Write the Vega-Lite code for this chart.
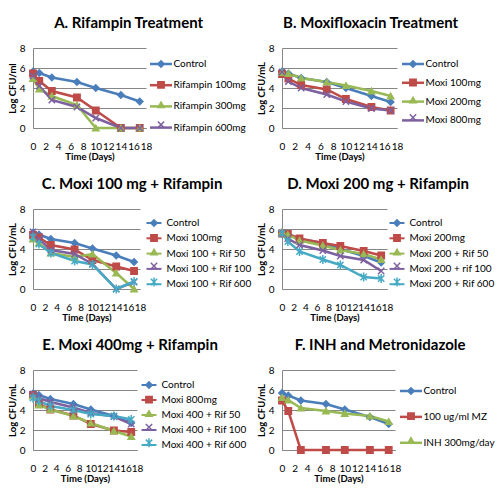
{
  "$schema": "https://vega.github.io/schema/vega-lite/v6.json",
  "padding": {"left": 7, "top": 16, "right": 2, "bottom": 2},
  "background": "white",
  "data": {"values": [
    {"p":"A","s":"Control","d":0,"v":5.65},{"p":"A","s":"Control","d":1,"v":5.5},{"p":"A","s":"Control","d":3,"v":5.05},{"p":"A","s":"Control","d":7,"v":4.6},{"p":"A","s":"Control","d":10,"v":4.0},{"p":"A","s":"Control","d":14,"v":3.3},{"p":"A","s":"Control","d":17,"v":2.65},
    {"p":"A","s":"Rifampin 100mg","d":0,"v":5.45},{"p":"A","s":"Rifampin 100mg","d":1,"v":4.7},{"p":"A","s":"Rifampin 100mg","d":3,"v":3.7},{"p":"A","s":"Rifampin 100mg","d":7,"v":3.05},{"p":"A","s":"Rifampin 100mg","d":10,"v":1.75},{"p":"A","s":"Rifampin 100mg","d":14,"v":0},{"p":"A","s":"Rifampin 100mg","d":17,"v":0},
    {"p":"A","s":"Rifampin 300mg","d":0,"v":4.95},{"p":"A","s":"Rifampin 300mg","d":1,"v":3.9},{"p":"A","s":"Rifampin 300mg","d":3,"v":3.2},{"p":"A","s":"Rifampin 300mg","d":7,"v":2.3},{"p":"A","s":"Rifampin 300mg","d":10,"v":0},{"p":"A","s":"Rifampin 300mg","d":14,"v":0},{"p":"A","s":"Rifampin 300mg","d":17,"v":0},
    {"p":"A","s":"Rifampin 600mg","d":0,"v":5.2},{"p":"A","s":"Rifampin 600mg","d":1,"v":4.2},{"p":"A","s":"Rifampin 600mg","d":3,"v":2.8},{"p":"A","s":"Rifampin 600mg","d":7,"v":2.1},{"p":"A","s":"Rifampin 600mg","d":10,"v":1.0},{"p":"A","s":"Rifampin 600mg","d":14,"v":0},{"p":"A","s":"Rifampin 600mg","d":17,"v":0},

    {"p":"B","s":"Control","d":0,"v":5.65},{"p":"B","s":"Control","d":1,"v":5.45},{"p":"B","s":"Control","d":3,"v":5.0},{"p":"B","s":"Control","d":7,"v":4.6},{"p":"B","s":"Control","d":10,"v":4.0},{"p":"B","s":"Control","d":14,"v":3.2},{"p":"B","s":"Control","d":17,"v":2.6},
    {"p":"B","s":"Moxi 100mg","d":0,"v":5.4},{"p":"B","s":"Moxi 100mg","d":1,"v":4.95},{"p":"B","s":"Moxi 100mg","d":3,"v":4.3},{"p":"B","s":"Moxi 100mg","d":7,"v":3.85},{"p":"B","s":"Moxi 100mg","d":10,"v":2.9},{"p":"B","s":"Moxi 100mg","d":14,"v":2.1},{"p":"B","s":"Moxi 100mg","d":17,"v":1.75},
    {"p":"B","s":"Moxi 200mg","d":0,"v":5.55},{"p":"B","s":"Moxi 200mg","d":1,"v":5.45},{"p":"B","s":"Moxi 200mg","d":3,"v":5.0},{"p":"B","s":"Moxi 200mg","d":7,"v":4.6},{"p":"B","s":"Moxi 200mg","d":10,"v":4.25},{"p":"B","s":"Moxi 200mg","d":14,"v":3.7},{"p":"B","s":"Moxi 200mg","d":17,"v":3.2},
    {"p":"B","s":"Moxi 800mg","d":0,"v":5.6},{"p":"B","s":"Moxi 800mg","d":1,"v":4.65},{"p":"B","s":"Moxi 800mg","d":3,"v":4.0},{"p":"B","s":"Moxi 800mg","d":7,"v":3.35},{"p":"B","s":"Moxi 800mg","d":10,"v":2.65},{"p":"B","s":"Moxi 800mg","d":14,"v":1.95},{"p":"B","s":"Moxi 800mg","d":17,"v":1.75},

    {"p":"C","s":"Control","d":0,"v":5.65},{"p":"C","s":"Control","d":1,"v":5.45},{"p":"C","s":"Control","d":3,"v":5.0},{"p":"C","s":"Control","d":7,"v":4.6},{"p":"C","s":"Control","d":10,"v":4.05},{"p":"C","s":"Control","d":14,"v":3.35},{"p":"C","s":"Control","d":17,"v":2.7},
    {"p":"C","s":"Moxi 100mg","d":0,"v":5.4},{"p":"C","s":"Moxi 100mg","d":1,"v":5.15},{"p":"C","s":"Moxi 100mg","d":3,"v":4.4},{"p":"C","s":"Moxi 100mg","d":7,"v":3.95},{"p":"C","s":"Moxi 100mg","d":10,"v":2.9},{"p":"C","s":"Moxi 100mg","d":14,"v":2.25},{"p":"C","s":"Moxi 100mg","d":17,"v":1.8},
    {"p":"C","s":"Moxi 100 + Rif 50","d":0,"v":5.0},{"p":"C","s":"Moxi 100 + Rif 50","d":1,"v":4.6},{"p":"C","s":"Moxi 100 + Rif 50","d":3,"v":3.6},{"p":"C","s":"Moxi 100 + Rif 50","d":7,"v":3.2},{"p":"C","s":"Moxi 100 + Rif 50","d":10,"v":3.5},{"p":"C","s":"Moxi 100 + Rif 50","d":14,"v":1.6},{"p":"C","s":"Moxi 100 + Rif 50","d":17,"v":0},
    {"p":"C","s":"Moxi 100 + Rif 100","d":0,"v":5.7},{"p":"C","s":"Moxi 100 + Rif 100","d":1,"v":5.0},{"p":"C","s":"Moxi 100 + Rif 100","d":3,"v":3.9},{"p":"C","s":"Moxi 100 + Rif 100","d":7,"v":3.5},{"p":"C","s":"Moxi 100 + Rif 100","d":10,"v":2.5},{"p":"C","s":"Moxi 100 + Rif 100","d":14,"v":0},{"p":"C","s":"Moxi 100 + Rif 100","d":17,"v":0.7},
    {"p":"C","s":"Moxi 100 + Rif 600","d":0,"v":5.2},{"p":"C","s":"Moxi 100 + Rif 600","d":1,"v":4.5},{"p":"C","s":"Moxi 100 + Rif 600","d":3,"v":3.6},{"p":"C","s":"Moxi 100 + Rif 600","d":7,"v":2.8},{"p":"C","s":"Moxi 100 + Rif 600","d":10,"v":2.45},{"p":"C","s":"Moxi 100 + Rif 600","d":14,"v":0},{"p":"C","s":"Moxi 100 + Rif 600","d":17,"v":0.75},

    {"p":"D","s":"Control","d":0,"v":5.65},{"p":"D","s":"Control","d":1,"v":5.5},{"p":"D","s":"Control","d":3,"v":5.0},{"p":"D","s":"Control","d":7,"v":4.6},{"p":"D","s":"Control","d":10,"v":4.0},{"p":"D","s":"Control","d":14,"v":3.3},{"p":"D","s":"Control","d":17,"v":2.65},
    {"p":"D","s":"Moxi 200mg","d":0,"v":5.55},{"p":"D","s":"Moxi 200mg","d":1,"v":5.5},{"p":"D","s":"Moxi 200mg","d":3,"v":5.05},{"p":"D","s":"Moxi 200mg","d":7,"v":4.6},{"p":"D","s":"Moxi 200mg","d":10,"v":4.3},{"p":"D","s":"Moxi 200mg","d":14,"v":3.8},{"p":"D","s":"Moxi 200mg","d":17,"v":3.35},
    {"p":"D","s":"Moxi 200 + Rif 50","d":0,"v":5.7},{"p":"D","s":"Moxi 200 + Rif 50","d":1,"v":5.45},{"p":"D","s":"Moxi 200 + Rif 50","d":3,"v":4.85},{"p":"D","s":"Moxi 200 + Rif 50","d":7,"v":4.35},{"p":"D","s":"Moxi 200 + Rif 50","d":10,"v":3.9},{"p":"D","s":"Moxi 200 + Rif 50","d":14,"v":3.5},{"p":"D","s":"Moxi 200 + Rif 50","d":17,"v":2.95},
    {"p":"D","s":"Moxi 200 + rif 100","d":0,"v":5.6},{"p":"D","s":"Moxi 200 + rif 100","d":1,"v":5.05},{"p":"D","s":"Moxi 200 + rif 100","d":3,"v":4.4},{"p":"D","s":"Moxi 200 + rif 100","d":7,"v":3.85},{"p":"D","s":"Moxi 200 + rif 100","d":10,"v":3.3},{"p":"D","s":"Moxi 200 + rif 100","d":14,"v":2.9},{"p":"D","s":"Moxi 200 + rif 100","d":17,"v":1.8},
    {"p":"D","s":"Moxi 200 + Rif 600","d":0,"v":5.55},{"p":"D","s":"Moxi 200 + Rif 600","d":1,"v":4.75},{"p":"D","s":"Moxi 200 + Rif 600","d":3,"v":3.75},{"p":"D","s":"Moxi 200 + Rif 600","d":7,"v":2.95},{"p":"D","s":"Moxi 200 + Rif 600","d":10,"v":2.4},{"p":"D","s":"Moxi 200 + Rif 600","d":14,"v":1.2},{"p":"D","s":"Moxi 200 + Rif 600","d":17,"v":1.05},

    {"p":"E","s":"Control","d":0,"v":5.65},{"p":"E","s":"Control","d":1,"v":5.5},{"p":"E","s":"Control","d":3,"v":5.1},{"p":"E","s":"Control","d":7,"v":4.6},{"p":"E","s":"Control","d":10,"v":4.05},{"p":"E","s":"Control","d":14,"v":3.4},{"p":"E","s":"Control","d":17,"v":2.7},
    {"p":"E","s":"Moxi 800mg","d":0,"v":5.5},{"p":"E","s":"Moxi 800mg","d":1,"v":4.65},{"p":"E","s":"Moxi 800mg","d":3,"v":4.05},{"p":"E","s":"Moxi 800mg","d":7,"v":3.45},{"p":"E","s":"Moxi 800mg","d":10,"v":2.6},{"p":"E","s":"Moxi 800mg","d":14,"v":1.95},{"p":"E","s":"Moxi 800mg","d":17,"v":1.8},
    {"p":"E","s":"Moxi 400 + Rif 50","d":0,"v":5.4},{"p":"E","s":"Moxi 400 + Rif 50","d":1,"v":4.5},{"p":"E","s":"Moxi 400 + Rif 50","d":3,"v":4.05},{"p":"E","s":"Moxi 400 + Rif 50","d":7,"v":3.4},{"p":"E","s":"Moxi 400 + Rif 50","d":10,"v":2.7},{"p":"E","s":"Moxi 400 + Rif 50","d":14,"v":1.9},{"p":"E","s":"Moxi 400 + Rif 50","d":17,"v":1.35},
    {"p":"E","s":"Moxi 400 + Rif 100","d":0,"v":5.6},{"p":"E","s":"Moxi 400 + Rif 100","d":1,"v":5.2},{"p":"E","s":"Moxi 400 + Rif 100","d":3,"v":4.8},{"p":"E","s":"Moxi 400 + Rif 100","d":7,"v":4.25},{"p":"E","s":"Moxi 400 + Rif 100","d":10,"v":3.7},{"p":"E","s":"Moxi 400 + Rif 100","d":14,"v":3.35},{"p":"E","s":"Moxi 400 + Rif 100","d":17,"v":2.6},
    {"p":"E","s":"Moxi 400 + Rif 600","d":0,"v":5.2},{"p":"E","s":"Moxi 400 + Rif 600","d":1,"v":4.9},{"p":"E","s":"Moxi 400 + Rif 600","d":3,"v":4.4},{"p":"E","s":"Moxi 400 + Rif 600","d":7,"v":4.0},{"p":"E","s":"Moxi 400 + Rif 600","d":10,"v":3.6},{"p":"E","s":"Moxi 400 + Rif 600","d":14,"v":3.4},{"p":"E","s":"Moxi 400 + Rif 600","d":17,"v":3.05},

    {"p":"F","s":"Control","d":0,"v":5.7},{"p":"F","s":"Control","d":1,"v":5.45},{"p":"F","s":"Control","d":3,"v":4.95},{"p":"F","s":"Control","d":7,"v":4.6},{"p":"F","s":"Control","d":10,"v":4.05},{"p":"F","s":"Control","d":14,"v":3.3},{"p":"F","s":"Control","d":17,"v":2.6},
    {"p":"F","s":"100 ug/ml MZ","d":0,"v":4.95},{"p":"F","s":"100 ug/ml MZ","d":1,"v":3.9},{"p":"F","s":"100 ug/ml MZ","d":3,"v":0},{"p":"F","s":"100 ug/ml MZ","d":7,"v":0},{"p":"F","s":"100 ug/ml MZ","d":10,"v":0},{"p":"F","s":"100 ug/ml MZ","d":14,"v":0},{"p":"F","s":"100 ug/ml MZ","d":17,"v":0},
    {"p":"F","s":"INH 300mg/day","d":0,"v":5.25},{"p":"F","s":"INH 300mg/day","d":1,"v":5.0},{"p":"F","s":"INH 300mg/day","d":3,"v":4.2},{"p":"F","s":"INH 300mg/day","d":7,"v":3.9},{"p":"F","s":"INH 300mg/day","d":10,"v":3.65},{"p":"F","s":"INH 300mg/day","d":14,"v":3.4},{"p":"F","s":"INH 300mg/day","d":17,"v":2.85}
  ]},
  "columns": 2,
  "bounds": "flush",
  "align": "all",
  "spacing": {"row": 81, "column": 134},
  "resolve": {"scale": {"color": "independent", "fill": "independent", "stroke": "independent", "shape": "independent", "x": "independent", "y": "independent"}, "legend": {"color": "independent", "fill": "independent", "stroke": "independent", "shape": "independent"}},
  "concat": [
    {
      "title": "A. Rifampin Treatment",
      "width": 113, "height": 80,
      "transform": [{"filter": "datum.p === 'A'"}],
      "encoding": {
        "x": {"field": "d", "type": "quantitative", "title": "Time (Days)", "scale": {"domain": [0, 18], "nice": false}, "axis": {"values": [0, 2, 4, 6, 8, 10, 12, 14, 16, 18]}},
        "y": {"field": "v", "type": "quantitative", "title": "Log CFU/ml", "scale": {"domain": [0, 8], "nice": false}, "axis": {"values": [0, 2, 4, 6, 8]}}
      },
      "layer": [
        {"mark": {"type": "line", "strokeWidth": 2.5},
         "encoding": {"color": {"field": "s", "type": "nominal",
           "scale": {"domain": ["Control", "Rifampin 100mg", "Rifampin 300mg", "Rifampin 600mg"], "range": ["#4A7EBB", "#BE4B48", "#98B954", "#7D60A0"]},
           "legend": {"orient": "right", "offset": -1, "padding": 3.5, "rowPadding": 3.2, "symbolType": "stroke", "symbolSize": 484, "symbolStrokeWidth": 2.5}}}},
        {"mark": {"type": "point", "filled": true, "size": 40, "strokeWidth": 1.5, "opacity": 1},
         "encoding": {
           "fill": {"field": "s", "type": "nominal", "scale": {"domain": ["Control", "Rifampin 100mg", "Rifampin 300mg", "Rifampin 600mg"], "range": ["#4A7EBB", "#BE4B48", "#98B954", "#7D60A0"]}, "legend": null},
           "stroke": {"field": "s", "type": "nominal", "scale": {"domain": ["Control", "Rifampin 100mg", "Rifampin 300mg", "Rifampin 600mg"], "range": ["#4A7EBB", "#BE4B48", "#98B954", "#7D60A0"]}, "legend": null},
           "shape": {"field": "s", "type": "nominal", "scale": {"domain": ["Control", "Rifampin 100mg", "Rifampin 300mg", "Rifampin 600mg"], "range": ["diamond", "square", "triangle-up", "M-1,-1L1,1M-1,1L1,-1"]},
             "legend": {"orient": "none", "legendX": 123, "legendY": 11, "rowPadding": 6.9, "padding": 0, "symbolSize": 40, "symbolStrokeWidth": 1.5, "labelOpacity": 0}}}}
      ]
    },
    {
      "title": "B. Moxifloxacin Treatment",
      "width": 115, "height": 80,
      "transform": [{"filter": "datum.p === 'B'"}],
      "encoding": {
        "x": {"field": "d", "type": "quantitative", "title": "Time (Days)", "scale": {"domain": [0, 18], "nice": false}, "axis": {"values": [0, 2, 4, 6, 8, 10, 12, 14, 16, 18]}},
        "y": {"field": "v", "type": "quantitative", "title": "Log CFU/mL", "scale": {"domain": [0, 8], "nice": false}, "axis": {"values": [0, 2, 4, 6, 8]}}
      },
      "layer": [
        {"mark": {"type": "line", "strokeWidth": 2.5},
         "encoding": {"color": {"field": "s", "type": "nominal",
           "scale": {"domain": ["Control", "Moxi 100mg", "Moxi 200mg", "Moxi 800mg"], "range": ["#4A7EBB", "#BE4B48", "#98B954", "#7D60A0"]},
           "legend": {"orient": "right", "offset": 0, "padding": 3.5, "rowPadding": 0.8, "symbolType": "stroke", "symbolSize": 484, "symbolStrokeWidth": 2.5}}}},
        {"mark": {"type": "point", "filled": true, "size": 40, "strokeWidth": 1.5, "opacity": 1},
         "encoding": {
           "fill": {"field": "s", "type": "nominal", "scale": {"domain": ["Control", "Moxi 100mg", "Moxi 200mg", "Moxi 800mg"], "range": ["#4A7EBB", "#BE4B48", "#98B954", "#7D60A0"]}, "legend": null},
           "stroke": {"field": "s", "type": "nominal", "scale": {"domain": ["Control", "Moxi 100mg", "Moxi 200mg", "Moxi 800mg"], "range": ["#4A7EBB", "#BE4B48", "#98B954", "#7D60A0"]}, "legend": null},
           "shape": {"field": "s", "type": "nominal", "scale": {"domain": ["Control", "Moxi 100mg", "Moxi 200mg", "Moxi 800mg"], "range": ["diamond", "square", "triangle-up", "M-1,-1L1,1M-1,1L1,-1"]},
             "legend": {"orient": "none", "legendX": 126, "legendY": 11, "rowPadding": 4.5, "padding": 0, "symbolSize": 40, "symbolStrokeWidth": 1.5, "labelOpacity": 0}}}}
      ]
    },
    {
      "title": "C. Moxi 100 mg + Rifampin",
      "width": 107, "height": 80,
      "transform": [{"filter": "datum.p === 'C'"}],
      "encoding": {
        "x": {"field": "d", "type": "quantitative", "title": "Time (Days)", "scale": {"domain": [0, 18], "nice": false}, "axis": {"values": [0, 2, 4, 6, 8, 10, 12, 14, 16, 18]}},
        "y": {"field": "v", "type": "quantitative", "title": "Log CFU/mL", "scale": {"domain": [0, 8], "nice": false}, "axis": {"values": [0, 2, 4, 6, 8]}}
      },
      "layer": [
        {"mark": {"type": "line", "strokeWidth": 2.5},
         "encoding": {"color": {"field": "s", "type": "nominal",
           "scale": {"domain": ["Control", "Moxi 100mg", "Moxi 100 + Rif 50", "Moxi 100 + Rif 100", "Moxi 100 + Rif 600"], "range": ["#4A7EBB", "#BE4B48", "#98B954", "#7D60A0", "#46AAC5"]},
           "legend": {"orient": "right", "offset": 0, "padding": 5.5, "rowPadding": 1.3, "symbolType": "stroke", "symbolSize": 225, "symbolStrokeWidth": 2, "labelOffset": 4}}}},
        {"mark": {"type": "point", "filled": true, "size": 40, "strokeWidth": 1.5, "opacity": 1},
         "encoding": {
           "fill": {"field": "s", "type": "nominal", "scale": {"domain": ["Control", "Moxi 100mg", "Moxi 100 + Rif 50", "Moxi 100 + Rif 100", "Moxi 100 + Rif 600"], "range": ["#4A7EBB", "#BE4B48", "#98B954", "#7D60A0", "#46AAC5"]}, "legend": null},
           "stroke": {"field": "s", "type": "nominal", "scale": {"domain": ["Control", "Moxi 100mg", "Moxi 100 + Rif 50", "Moxi 100 + Rif 100", "Moxi 100 + Rif 600"], "range": ["#4A7EBB", "#BE4B48", "#98B954", "#7D60A0", "#46AAC5"]}, "legend": null},
           "shape": {"field": "s", "type": "nominal", "scale": {"domain": ["Control", "Moxi 100mg", "Moxi 100 + Rif 50", "Moxi 100 + Rif 100", "Moxi 100 + Rif 600"], "range": ["diamond", "square", "triangle-up", "M-1,-1L1,1M-1,1L1,-1", "M-1,-1L1,1M-1,1L1,-1M0,-1.4V1.4"]},
             "legend": {"orient": "none", "legendX": 116, "legendY": 9, "rowPadding": 1.0, "padding": 0, "symbolSize": 40, "symbolStrokeWidth": 1.5, "labelOpacity": 0}}}}
      ]
    },
    {
      "title": "D. Moxi 200 mg + Rifampin",
      "width": 105, "height": 80,
      "transform": [{"filter": "datum.p === 'D'"}],
      "encoding": {
        "x": {"field": "d", "type": "quantitative", "title": "Time (Days)", "scale": {"domain": [0, 18], "nice": false}, "axis": {"values": [0, 2, 4, 6, 8, 10, 12, 14, 16, 18]}},
        "y": {"field": "v", "type": "quantitative", "title": "Log CFU/mL", "scale": {"domain": [0, 8], "nice": false}, "axis": {"values": [0, 2, 4, 6, 8]}}
      },
      "layer": [
        {"mark": {"type": "line", "strokeWidth": 2.5},
         "encoding": {"color": {"field": "s", "type": "nominal",
           "scale": {"domain": ["Control", "Moxi 200mg", "Moxi 200 + Rif 50", "Moxi 200 + rif 100", "Moxi 200 + Rif 600"], "range": ["#4A7EBB", "#BE4B48", "#98B954", "#7D60A0", "#46AAC5"]},
           "legend": {"orient": "right", "offset": -4, "padding": 5.5, "rowPadding": 1.3, "symbolType": "stroke", "symbolSize": 225, "symbolStrokeWidth": 2, "labelOffset": 4}}}},
        {"mark": {"type": "point", "filled": true, "size": 40, "strokeWidth": 1.5, "opacity": 1},
         "encoding": {
           "fill": {"field": "s", "type": "nominal", "scale": {"domain": ["Control", "Moxi 200mg", "Moxi 200 + Rif 50", "Moxi 200 + rif 100", "Moxi 200 + Rif 600"], "range": ["#4A7EBB", "#BE4B48", "#98B954", "#7D60A0", "#46AAC5"]}, "legend": null},
           "stroke": {"field": "s", "type": "nominal", "scale": {"domain": ["Control", "Moxi 200mg", "Moxi 200 + Rif 50", "Moxi 200 + rif 100", "Moxi 200 + Rif 600"], "range": ["#4A7EBB", "#BE4B48", "#98B954", "#7D60A0", "#46AAC5"]}, "legend": null},
           "shape": {"field": "s", "type": "nominal", "scale": {"domain": ["Control", "Moxi 200mg", "Moxi 200 + Rif 50", "Moxi 200 + rif 100", "Moxi 200 + Rif 600"], "range": ["diamond", "square", "triangle-up", "M-1,-1L1,1M-1,1L1,-1", "M-1,-1L1,1M-1,1L1,-1M0,-1.4V1.4"]},
             "legend": {"orient": "none", "legendX": 110, "legendY": 9, "rowPadding": 1.0, "padding": 0, "symbolSize": 40, "symbolStrokeWidth": 1.5, "labelOpacity": 0}}}}
      ]
    },
    {
      "title": "E. Moxi 400mg + Rifampin",
      "width": 104, "height": 80,
      "transform": [{"filter": "datum.p === 'E'"}],
      "encoding": {
        "x": {"field": "d", "type": "quantitative", "title": "Time (Days)", "scale": {"domain": [0, 18], "nice": false}, "axis": {"values": [0, 2, 4, 6, 8, 10, 12, 14, 16, 18]}},
        "y": {"field": "v", "type": "quantitative", "title": "Log CFU/mL", "scale": {"domain": [0, 8], "nice": false}, "axis": {"values": [0, 2, 4, 6, 8]}}
      },
      "layer": [
        {"mark": {"type": "line", "strokeWidth": 2.5},
         "encoding": {"color": {"field": "s", "type": "nominal",
           "scale": {"domain": ["Control", "Moxi 800mg", "Moxi 400 + Rif 50", "Moxi 400 + Rif 100", "Moxi 400 + Rif 600"], "range": ["#4A7EBB", "#BE4B48", "#98B954", "#7D60A0", "#46AAC5"]},
           "legend": {"orient": "right", "offset": -3, "padding": 6.5, "rowPadding": 1.0, "symbolType": "stroke", "symbolSize": 225, "symbolStrokeWidth": 2, "labelOffset": 4}}}},
        {"mark": {"type": "point", "filled": true, "size": 40, "strokeWidth": 1.5, "opacity": 1},
         "encoding": {
           "fill": {"field": "s", "type": "nominal", "scale": {"domain": ["Control", "Moxi 800mg", "Moxi 400 + Rif 50", "Moxi 400 + Rif 100", "Moxi 400 + Rif 600"], "range": ["#4A7EBB", "#BE4B48", "#98B954", "#7D60A0", "#46AAC5"]}, "legend": null},
           "stroke": {"field": "s", "type": "nominal", "scale": {"domain": ["Control", "Moxi 800mg", "Moxi 400 + Rif 50", "Moxi 400 + Rif 100", "Moxi 400 + Rif 600"], "range": ["#4A7EBB", "#BE4B48", "#98B954", "#7D60A0", "#46AAC5"]}, "legend": null},
           "shape": {"field": "s", "type": "nominal", "scale": {"domain": ["Control", "Moxi 800mg", "Moxi 400 + Rif 50", "Moxi 400 + Rif 100", "Moxi 400 + Rif 600"], "range": ["diamond", "square", "triangle-up", "M-1,-1L1,1M-1,1L1,-1", "M-1,-1L1,1M-1,1L1,-1M0,-1.4V1.4"]},
             "legend": {"orient": "none", "legendX": 111, "legendY": 10, "rowPadding": 0.7, "padding": 0, "symbolSize": 40, "symbolStrokeWidth": 1.5, "labelOpacity": 0}}}}
      ]
    },
    {
      "title": "F. INH and Metronidazole",
      "width": 113, "height": 80,
      "transform": [{"filter": "datum.p === 'F'"}],
      "encoding": {
        "x": {"field": "d", "type": "quantitative", "title": "Time (Days)", "scale": {"domain": [0, 18], "nice": false}, "axis": {"values": [0, 2, 4, 6, 8, 10, 12, 14, 16, 18]}},
        "y": {"field": "v", "type": "quantitative", "title": "Log CFU/mL", "scale": {"domain": [0, 8], "nice": false}, "axis": {"values": [0, 2, 4, 6, 8]}}
      },
      "layer": [
        {"mark": {"type": "line", "strokeWidth": 2.5},
         "encoding": {"color": {"field": "s", "type": "nominal",
           "scale": {"domain": ["Control", "100 ug/ml MZ", "INH 300mg/day"], "range": ["#4A7EBB", "#BE4B48", "#98B954"]},
           "legend": {"orient": "right", "offset": -5, "padding": 8.5, "rowPadding": 7.9, "symbolType": "stroke", "symbolSize": 484, "symbolStrokeWidth": 2.5}}}},
        {"mark": {"type": "point", "filled": true, "size": 40, "strokeWidth": 1.5, "opacity": 1},
         "encoding": {
           "fill": {"field": "s", "type": "nominal", "scale": {"domain": ["Control", "100 ug/ml MZ", "INH 300mg/day"], "range": ["#4A7EBB", "#BE4B48", "#98B954"]}, "legend": null},
           "stroke": {"field": "s", "type": "nominal", "scale": {"domain": ["Control", "100 ug/ml MZ", "INH 300mg/day"], "range": ["#4A7EBB", "#BE4B48", "#98B954"]}, "legend": null},
           "shape": {"field": "s", "type": "nominal", "scale": {"domain": ["Control", "100 ug/ml MZ", "INH 300mg/day"], "range": ["diamond", "square", "triangle-up"]},
             "legend": {"orient": "none", "legendX": 124, "legendY": 16, "rowPadding": 11.2, "padding": 0, "symbolSize": 40, "symbolStrokeWidth": 1.5, "labelOpacity": 0}}}}
      ]
    }
  ],
  "config": {
    "font": "Lato",
    "view": {"stroke": null},
    "title": {"fontSize": 15, "fontWeight": "bold", "font": "Lato", "color": "#000", "anchor": "middle", "frame": "bounds", "offset": 12},
    "axis": {"labelFont": "Lato", "labelFontSize": 10, "labelColor": "#000", "titleFont": "Lato", "titleFontSize": 9.5, "titleFontWeight": "bold", "titleColor": "#000", "domainColor": "#868686", "gridColor": "#868686", "gridWidth": 1, "ticks": false, "labelFlush": false, "labelOverlap": false},
    "axisX": {"grid": false, "labelPadding": 13, "titlePadding": 0, "labelAngle": 0},
    "axisY": {"grid": true, "labelPadding": 8, "titlePadding": 2},
    "legend": {"title": null, "labelFont": "Lato", "labelFontSize": 10, "labelColor": "#000", "labelOffset": 0, "symbolOffset": 0}
  }
}
